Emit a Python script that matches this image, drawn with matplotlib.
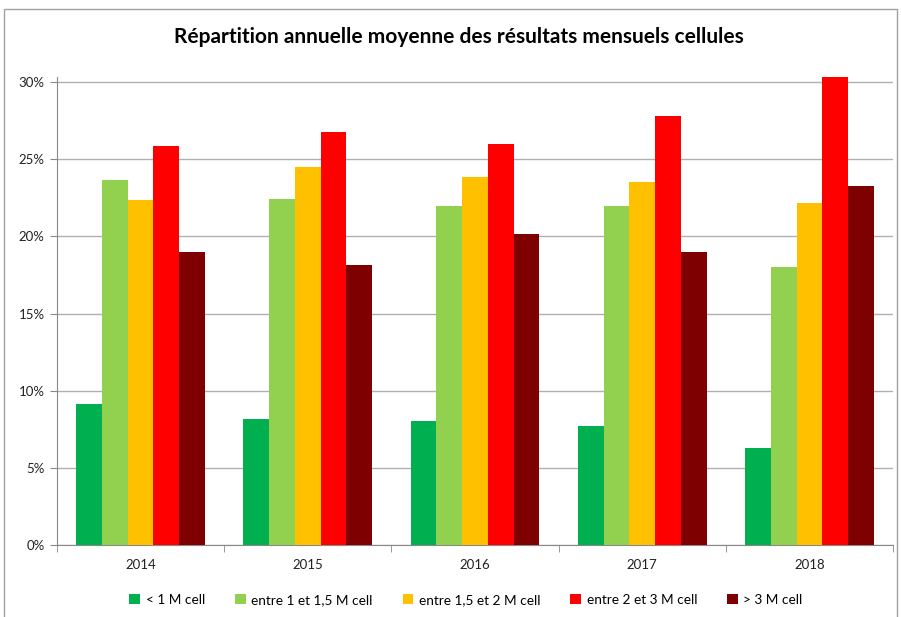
import matplotlib.pyplot as plt
from matplotlib.patches import Rectangle
from matplotlib.ticker import FuncFormatter
import numpy as np

plt.rcParams['font.family'] = ['Lato', 'DejaVu Sans']

years = ["2014", "2015", "2016", "2017", "2018"]
series_names = ["< 1 M cell", "entre 1 et 1,5 M cell", "entre 1,5 et 2 M cell",
                "entre 2 et 3 M cell", "> 3 M cell"]
colors = ["#00b050", "#92d050", "#ffc000", "#ff0000", "#7f0000"]

lt_1m = [9.14, 8.17, 8.04, 7.71, 6.29]
m1_15 = [23.65, 22.42, 21.97, 21.97, 18.02]
m15_2 = [22.36, 24.5, 23.85, 23.53, 22.16]
m2_3 = [25.86, 26.77, 25.99, 27.8, 30.33]
gt_3m = [18.99, 18.15, 20.16, 18.99, 23.27]
values = [lt_1m, m1_15, m15_2, m2_3, gt_3m]

fig = plt.figure(figsize=(9.01, 6.17), dpi=100)
ax = fig.add_axes([57 / 901, 1 - 545 / 617, (893 - 57) / 901, (545 - 77) / 617])

x = np.arange(len(years))
w = 0.154
for i, (vals, name, c) in enumerate(zip(values, series_names, colors)):
    ax.bar(x + (i - 2) * w, vals, w, color=c, label=name, zorder=3)

ax.set_xlim(-0.5, len(years) - 0.5)
ax.set_ylim(0, 30.33)
ax.set_yticks(np.arange(0, 31, 5))
ax.yaxis.set_major_formatter(FuncFormatter(lambda v, p: f"{v:.0f}%"))
ax.set_xticks(x)
ax.set_xticklabels(years)
ax.set_xticks(np.arange(-0.5, len(years), 1), minor=True)
ax.tick_params(axis='x', which='major', length=0, pad=10, labelsize=9.5, colors='#222222')
ax.tick_params(axis='x', which='minor', length=5, color='#888888')
ax.tick_params(axis='y', length=5, color='#888888', labelsize=9.5, labelcolor='#222222', pad=4)
ax.grid(axis='y', color='#b0b0b0', linewidth=1, zorder=0)
for s in ['top', 'right']:
    ax.spines[s].set_visible(False)
for s in ['left', 'bottom']:
    ax.spines[s].set_color('#888888')

fig.text(459 / 901, 1 - 37 / 617, "Répartition annuelle moyenne des résultats mensuels cellules",
         ha='center', va='center', fontsize=15, fontweight='bold')

fig.legend(loc='center', bbox_to_anchor=(466 / 901, 1 - 600 / 617), ncol=5, frameon=False,
           fontsize=9.8, handlelength=0.8, handleheight=0.8, handletextpad=0.4, columnspacing=2.2)

fig.patches.append(Rectangle((4 / 901, -0.01), 893 / 901, 1 - 9 / 617 + 0.01,
                             transform=fig.transFigure, fill=False, edgecolor='#a0a0a0', linewidth=1))

fig.savefig("out.png", dpi=100)
